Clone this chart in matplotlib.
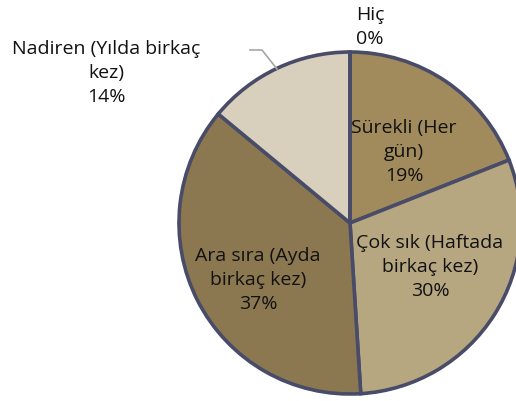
import numpy as np
import matplotlib.pyplot as plt

# Veriler
kategoriler = ["Sürekli (Her\ngün)", "Çok sık (Haftada\nbirkaç kez)", "Ara sıra (Ayda\nbirkaç kez)",
               "Nadiren (Yılda birkaç\nkez)", "Hiç"]
yuzdeler = [19, 30, 37, 14, 0]
renkler = ["#a18b5c", "#b7a780", "#8c7850", "#d8cfbc", "#c9bfa8"]

# Etiket merkezleri (piksel)
etiket_px = [(404, 152), (430, 267), (258, 280), (106, 73), (370, 27)]

W, H = 516, 401
cx, cy, r = 350, 223, 171


def px(x, y):
    # pikselden veri koordinatına
    return (x - cx) / r, (cy - y) / r


fig = plt.figure(figsize=(W / 100, H / 100), dpi=100)
ax = fig.add_axes([0, 0, 1, 1])

ax.pie(yuzdeler, colors=renkler, startangle=90, counterclock=False, radius=1,
       wedgeprops=dict(edgecolor="#484c69", linewidth=2.6))

ax.set_xlim(-cx / r, (W - cx) / r)
ax.set_ylim(-(H - cy) / r, cy / r)
ax.set_aspect("equal")
ax.axis("off")

for kat, deger, (x, y) in zip(kategoriler, yuzdeler, etiket_px):
    tx, ty = px(x, y)
    ax.text(tx, ty, f"{kat}\n{deger}%", ha="center", va="center", fontsize=14,
            family="Open Sans", color="#111111", linespacing=1.42)

# Nadiren için kılavuz çizgisi
lx, ly = zip(px(250, 50), px(262, 50), px(277, 69))
ax.plot(lx, ly, color="#a6a6a6", linewidth=1.2)

fig.savefig("out.png", dpi=100)
